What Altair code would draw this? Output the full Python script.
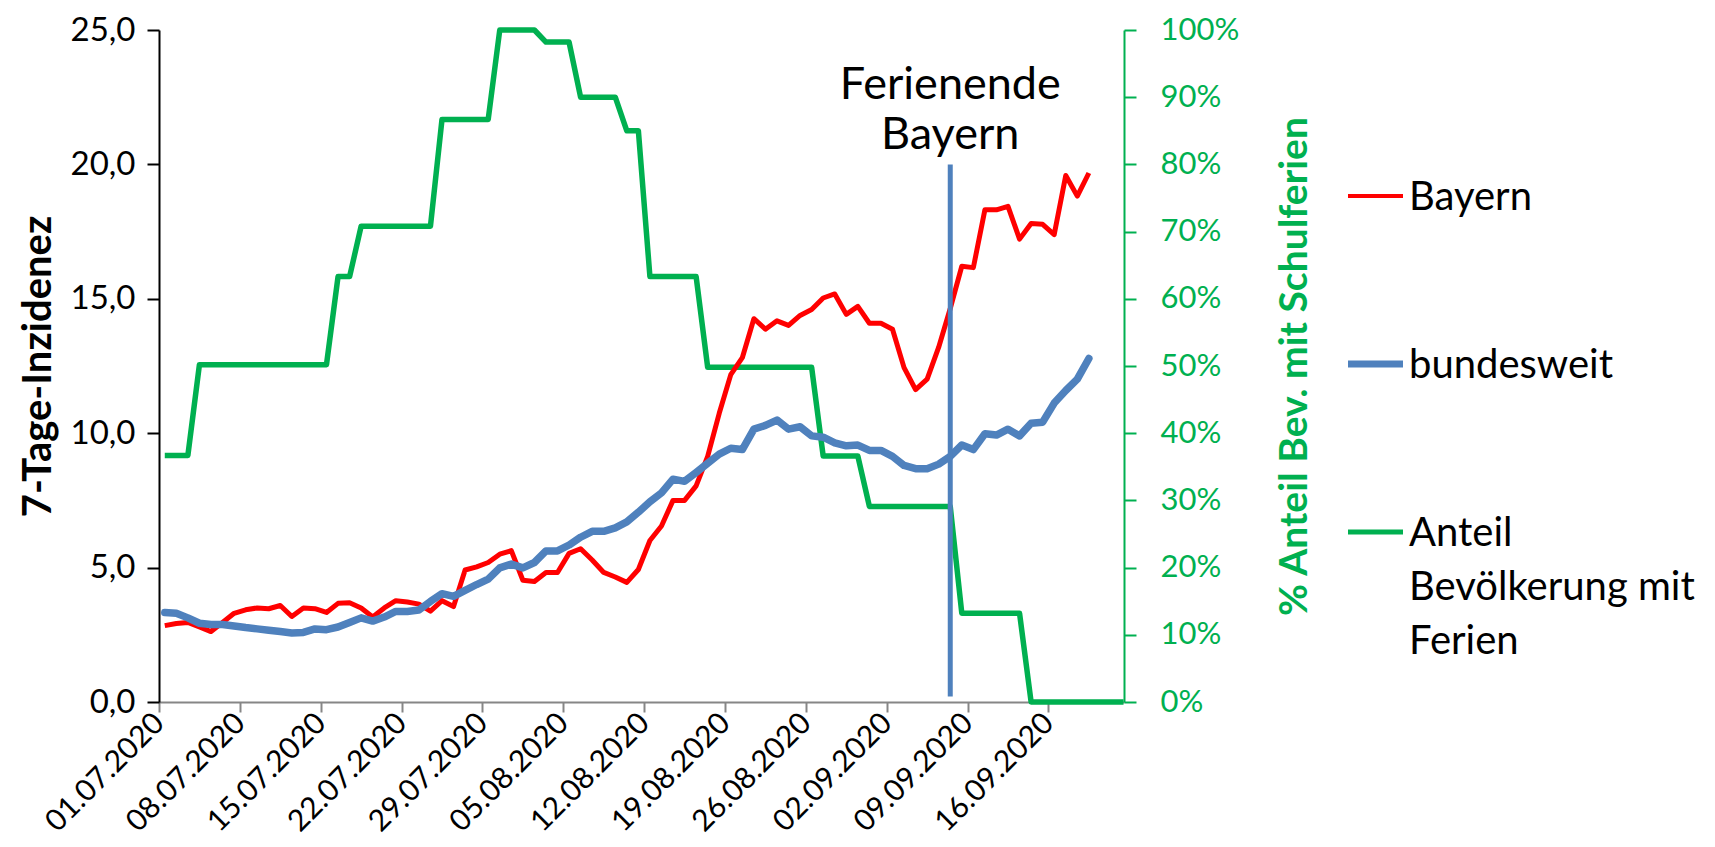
import altair as alt
import pandas as pd

# ---------------- data ----------------
start_date = "2020-07-01"

bayern = [2.84, 2.92, 2.96, 2.79, 2.62, 2.96, 3.30, 3.43, 3.50, 3.47,
          3.59, 3.18, 3.50, 3.47, 3.33, 3.67, 3.69, 3.50, 3.16, 3.50,
          3.77, 3.72, 3.64, 3.38, 3.77, 3.55, 4.91, 5.03, 5.19, 5.50,
          5.63, 4.53, 4.48, 4.82, 4.82, 5.53, 5.70, 5.28, 4.82, 4.65,
          4.45, 4.93, 6.01, 6.55, 7.50, 7.50, 8.04, 9.14, 10.74, 12.18,
          12.81, 14.26, 13.87, 14.18, 14.01, 14.38, 14.60, 15.03, 15.18, 14.42,
          14.72, 14.09, 14.09, 13.87, 12.44, 11.62, 12.01, 13.20, 14.64, 16.21,
          16.16, 18.31, 18.31, 18.44, 17.22, 17.80, 17.77, 17.39, 19.59, 18.82,
          19.68]

bundesweit = [3.33, 3.30, 3.13, 2.93, 2.88, 2.88, 2.83, 2.77, 2.72, 2.67,
              2.62, 2.57, 2.59, 2.72, 2.69, 2.79, 2.96, 3.13, 3.01, 3.16,
              3.37, 3.37, 3.42, 3.74, 4.03, 3.93, 4.15, 4.37, 4.57, 4.99,
              5.13, 4.99, 5.19, 5.62, 5.62, 5.84, 6.13, 6.35, 6.35, 6.48,
              6.70, 7.06, 7.45, 7.78, 8.29, 8.21, 8.54, 8.88, 9.22, 9.44,
              9.39, 10.15, 10.29, 10.49, 10.15, 10.24, 9.90, 9.85, 9.64, 9.53,
              9.56, 9.36, 9.36, 9.14, 8.80, 8.68, 8.68, 8.85, 9.14, 9.56,
              9.39, 9.98, 9.93, 10.15, 9.90, 10.37, 10.41, 11.12, 11.59, 12.01,
              12.78]

anteil_ferien = [36.7, 36.7, 36.7,
                 50.2, 50.2, 50.2, 50.2, 50.2, 50.2, 50.2, 50.2, 50.2, 50.2, 50.2, 50.2,
                 63.3, 63.3,
                 70.8, 70.8, 70.8, 70.8, 70.8, 70.8, 70.8,
                 86.7, 86.7, 86.7, 86.7, 86.7,
                 100.0, 100.0, 100.0, 100.0,
                 98.2, 98.2, 98.2,
                 90.0, 90.0, 90.0, 90.0,
                 85.0, 85.0,
                 63.3, 63.3, 63.3, 63.3, 63.3,
                 49.8, 49.8, 49.8, 49.8, 49.8, 49.8, 49.8, 49.8, 49.8, 49.8,
                 36.6, 36.6, 36.6, 36.6,
                 29.1, 29.1, 29.1, 29.1, 29.1, 29.1, 29.1, 29.1,
                 13.2, 13.2, 13.2, 13.2, 13.2, 13.2,
                 0.0, 0.0, 0.0, 0.0, 0.0, 0.0, 0.0, 0.0, 0.0]

x_tick_labels = ["01.07.2020", "08.07.2020", "15.07.2020", "22.07.2020",
                 "29.07.2020", "05.08.2020", "12.08.2020", "19.08.2020",
                 "26.08.2020", "02.09.2020", "09.09.2020", "16.09.2020"]
x_axis_end = "2020-09-22 13:00"
y_left_ticks = [0, 5, 10, 15, 20, 25]
y_right_ticks = [0, 10, 20, 30, 40, 50, 60, 70, 80, 90, 100]

series_names = ["Bayern", "bundesweit", "Anteil Bevölkerung mit Ferien"]
legend_labels = ["Bayern", "bundesweit", "Anteil\nBevölkerung mit\nFerien"]
series_colors = ["#FF0000", "#4F81BD", "#00B050"]
series_widths = [4, 7, 5]

ferienende_date = "07.09.2020"
ferienende_text = "Ferienende\nBayern"
ferienende_top = 20.0
ferienende_bottom = 0.2

FONT = "Lato"
RED, BLUE, GREEN = series_colors


def ms(ts):
    return int(pd.Timestamp(ts).value // 10**6)


days = pd.date_range(start_date, periods=len(anteil_ferien), freq="D") + pd.Timedelta(hours=12)
t_all = [ms(d) for d in days]

df_bay = pd.DataFrame({"t": t_all[:len(bayern)], "value": bayern})
df_bund = pd.DataFrame({"t": t_all[:len(bundesweit)], "value": bundesweit})
df_green = pd.DataFrame({"t": t_all, "pct": anteil_ferien})
fe_t = ms(pd.to_datetime(ferienende_date, format="%d.%m.%Y") + pd.Timedelta(hours=12))
df_fe = pd.DataFrame({"t": [fe_t], "y0": [ferienende_bottom], "y1": [ferienende_top],
                      "label": [ferienende_text]})

tick_ms = [ms(pd.to_datetime(s, format="%d.%m.%Y")) for s in x_tick_labels]
x_domain = [ms(pd.Timestamp(start_date)), ms(pd.Timestamp(x_axis_end))]

x_axis = alt.Axis(values=tick_ms, labelExpr="utcFormat(datum.value, '%d.%m.%Y')",
                  labelAngle=315, labelAlign="right", labelBaseline="middle",
                  labelFont=FONT, labelFontSize=30, labelColor="black",
                  labelPadding=6, labelOverlap=False, labelFlush=False, labelBound=False,
                  tickSize=10, tickColor="#868686", tickWidth=2,
                  domainColor="#868686", domainWidth=2, grid=False, title=None)
x_enc = alt.X("t:T", scale=alt.Scale(type="utc", domain=x_domain), axis=x_axis)

left_axis = alt.Axis(values=y_left_ticks,
                     labelExpr="replace(format(datum.value, '.1f'), '.', ',')",
                     labelFont=FONT, labelFontSize=33, labelColor="black", labelPadding=12,
                     tickSize=12, tickColor="black", tickWidth=2,
                     domainColor="black", domainWidth=2, grid=False,
                     title="7-Tage-Inzidenez", titleFont=FONT, titleFontSize=40,
                     titleFontWeight="bold", titleColor="black", titlePadding=12)
left_scale = alt.Scale(domain=[0, 25], nice=False)

right_axis = alt.Axis(orient="right", values=y_right_ticks,
                      labelExpr="datum.value + '%'",
                      labelFont=FONT, labelFontSize=31, labelColor=GREEN, labelPadding=24,
                      tickSize=12, tickColor=GREEN, tickWidth=2,
                      domainColor=GREEN, domainWidth=2, grid=False,
                      title="% Anteil Bev. mit Schulferien", titleFont=FONT,
                      titleFontSize=39, titleFontWeight="bold", titleColor=GREEN,
                      titleAngle=270, titlePadding=76)

red = alt.Chart(df_bay).mark_line(color=RED, strokeWidth=5, strokeJoin="round").encode(
    x=x_enc, y=alt.Y("value:Q", scale=left_scale, axis=left_axis))
blue = alt.Chart(df_bund).mark_line(color=BLUE, strokeWidth=7.5, strokeJoin="round",
                                    strokeCap="round").encode(
    x=x_enc, y=alt.Y("value:Q", scale=left_scale, axis=left_axis))
rule = alt.Chart(df_fe).mark_rule(color=BLUE, strokeWidth=5).encode(
    x=x_enc, y=alt.Y("y0:Q", scale=left_scale, axis=left_axis), y2="y1:Q")
note = alt.Chart(df_fe).mark_text(align="center", baseline="bottom", lineBreak="\n",
                                  font=FONT, fontSize=45, lineHeight=50, dy=-56,
                                  color="black").encode(
    x=x_enc, y=alt.Y("y1:Q", scale=left_scale, axis=left_axis), text="label:N")

green = alt.Chart(df_green).mark_line(color=GREEN, strokeWidth=5.5, strokeJoin="round").encode(
    x=x_enc, y=alt.Y("pct:Q", scale=alt.Scale(domain=[0, 100], nice=False), axis=right_axis))

left = alt.layer(red, blue, rule, note)
main = alt.layer(green, left).resolve_scale(y="independent").properties(width=965, height=672)

# ---------------- legend (separate panel) ----------------
df_leg = pd.DataFrame({"name": series_names, "label": legend_labels,
                       "color": series_colors, "sw": series_widths})
leg_y = alt.Y("name:N", scale=alt.Scale(type="point", domain=series_names,
                                        range=[166, 502], padding=0),
              axis=None)
leg_rule = alt.Chart(df_leg).mark_rule().encode(
    y=leg_y, x=alt.value(0), x2=alt.value(55),
    color=alt.Color("color:N", scale=None),
    strokeWidth=alt.StrokeWidth("sw:Q", scale=None))
leg_text = alt.Chart(df_leg).mark_text(align="left", baseline="alphabetic", dy=14,
                                       lineBreak="\n", font=FONT, fontSize=40,
                                       lineHeight=54, color="black").encode(
    y=leg_y, x=alt.value(61), text="label:N")
legend = alt.layer(leg_rule, leg_text).properties(width=320, height=672)

chart = alt.HConcatChart(hconcat=[main, legend], spacing=224, bounds="flush").configure(
    font=FONT).configure_view(stroke=None, strokeWidth=0).properties(
    padding={"left": 10, "top": 6, "right": 5, "bottom": 5})

chart.save("out.html", embed_options={"renderer": "svg", "actions": False})
